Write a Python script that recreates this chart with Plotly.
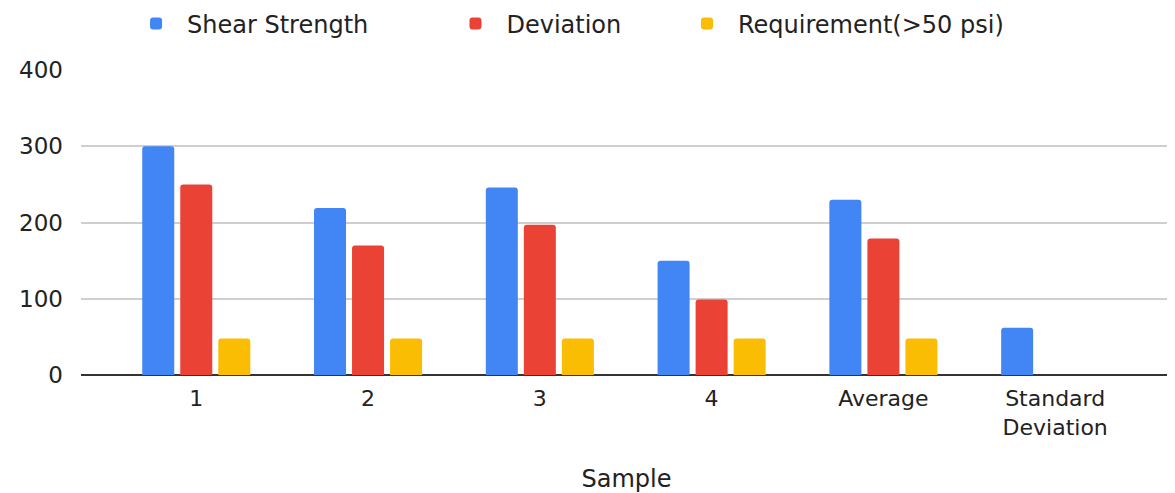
import plotly.graph_objects as go

categories = ["1", "2", "3", "4", "Average", "Standard<br>Deviation"]
shear_strength = [300, 219, 246, 150, 230, 62]
deviation = [250, 170, 197, 99, 179, None]
requirement = [48, 48, 48, 48, 48, None]
y_ticks = [0, 100, 200, 300, 400]

FONT = "DejaVu Sans"
TXT = "#222222"

fig = go.Figure()
fig.add_trace(go.Bar(name="Shear Strength", x=categories, y=shear_strength,
                     marker=dict(color="#4285F4", line=dict(width=0)),
                     legend="legend"))
fig.add_trace(go.Bar(name="Deviation", x=categories, y=deviation,
                     marker=dict(color="#EA4335", line=dict(width=0)),
                     legend="legend2"))
fig.add_trace(go.Bar(name="Requirement(>50 psi)", x=categories, y=requirement,
                     marker=dict(color="#FBBC04", line=dict(width=0)),
                     legend="legend3"))


def legend_box(xpos):
    return dict(orientation="h", xref="container", x=xpos, xanchor="left",
                yref="paper", y=1.2246, yanchor="top",
                bgcolor="rgba(0,0,0,0)",
                font=dict(family=FONT, size=24, color=TXT),
                itemwidth=52)


# page body has an 8px default margin, so the figure is offset by 8px
fig.update_layout(
    width=1167, height=485,
    margin=dict(l=73, r=3, t=62, b=118, autoexpand=False),
    paper_bgcolor="white", plot_bgcolor="white",
    barmode="group", bargap=0.336, bargroupgap=0.158, barcornerradius=3,
    font=dict(family=FONT, color=TXT, size=22),
    showlegend=True,
    legend=legend_box(0.1003),
    legend2=legend_box(0.3740),
    legend3=legend_box(0.5724),
    hovermode=False,
)
fig.update_xaxes(
    type="category", range=[-0.671, 5.68],
    showgrid=False, showline=False, ticks="", automargin=False,
    ticklabelstandoff=8,
    tickfont=dict(family=FONT, size=22, color=TXT),
    title=dict(text="Sample", font=dict(family=FONT, size=24, color=TXT), standoff=38),
)
fig.update_yaxes(
    range=[0, 400], tickvals=y_ticks, ticktext=[str(v) for v in y_ticks],
    showgrid=True, gridcolor="#cfcfcf", gridwidth=1.5,
    zeroline=True, zerolinecolor="#333333", zerolinewidth=1.5,
    showline=False, ticks="", ticklabelstandoff=17, automargin=False,
    tickfont=dict(family=FONT, size=23, color=TXT),
)

fig.write_html("out.html")
